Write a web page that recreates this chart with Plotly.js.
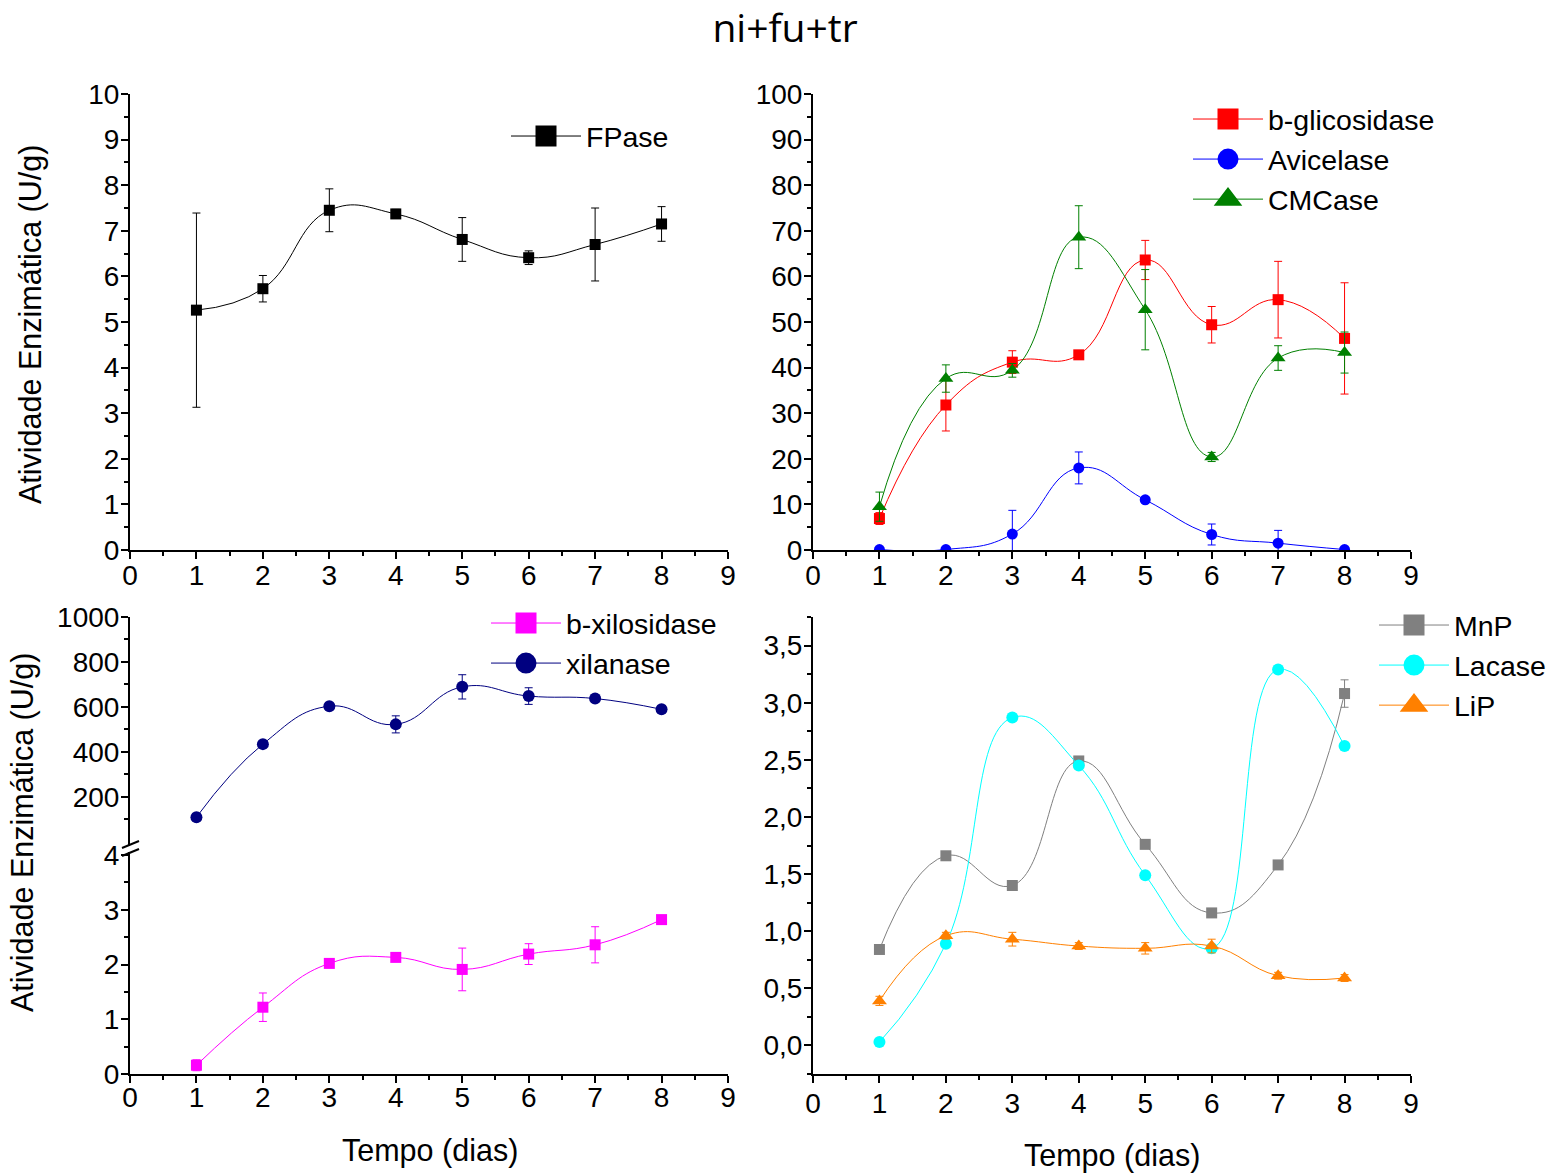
<!DOCTYPE html>
<html>
<head>
<meta charset="utf-8">
<script src="https://cdn.plot.ly/plotly-3.0.1.min.js"></script>
<style>html,body{margin:0;padding:0;background:#fff;}#chart{width:1562px;height:1173px;}</style>
</head>
<body>
<div id="chart"></div>
<script>
// ---- data ----
const days = [1, 2, 3, 4, 5, 6, 7, 8];

const fpase    = [5.26, 5.73, 7.45, 7.37, 6.81, 6.41, 6.70, 7.15];
const fpaseErr = [2.13, 0.29, 0.47, 0.10, 0.48, 0.15, 0.80, 0.38];

const bGlic    = [6.9, 31.8, 41.2, 42.8, 63.6, 49.4, 54.9, 46.4];
const bGlicErr = [1.3, 5.7, 2.5, 0.5, 4.3, 4.0, 8.4, 12.2];
const avic     = [0.1, 0.1, 3.5, 18.0, 11.0, 3.4, 1.5, 0.1];
const avicErr  = [0.3, 0.3, 5.2, 3.5, 0.6, 2.3, 2.8, 0.3];
const cmc      = [9.5, 37.6, 39.4, 68.6, 52.7, 20.4, 42.1, 43.3];
const cmcErr   = [3.2, 3.0, 1.5, 6.9, 8.8, 1.0, 2.7, 4.5];

const xilanase    = [109, 434, 603, 522, 689, 648, 637, 589];
const xilanaseErr = [10, 10, 10, 38, 54, 37, 10, 15];
const bXil        = [0.16, 1.22, 2.02, 2.13, 1.91, 2.19, 2.36, 2.82];
const bXilErr     = [0.10, 0.26, 0.05, 0.05, 0.39, 0.19, 0.33, 0.05];

const mnp       = [0.84, 1.66, 1.40, 2.49, 1.76, 1.16, 1.58, 3.08];
const mnpErr    = [0.02, 0.02, 0.03, 0.03, 0.02, 0.02, 0.02, 0.12];
const lacase    = [0.03, 0.89, 2.87, 2.45, 1.49, 0.85, 3.29, 2.62];
const lacaseErr = [0.01, 0.01, 0.01, 0.01, 0.01, 0.01, 0.01, 0.01];
const lip       = [0.39, 0.96, 0.93, 0.87, 0.85, 0.87, 0.61, 0.59];
const lipErr    = [0.04, 0.03, 0.06, 0.03, 0.05, 0.06, 0.03, 0.03];

const xTicks   = [0, 1, 2, 3, 4, 5, 6, 7, 8, 9];
const xilTicks = [200, 400, 600, 800, 1000];
const xilMinor = [100, 300, 500, 700, 900];
const ligTicks = [0, 0.5, 1, 1.5, 2, 2.5, 3, 3.5];

const title = 'ni+fu+tr';
const yTitle = 'Atividade Enzimática (U/g)';
const xTitle = 'Tempo (dias)';

// ---- layout helpers ----
const W = 1562, H = 1173;
const px = v => v / W;
const py = v => 1 - v / H;
const FONT = 'Liberation Sans, Arial, sans-serif';
const tickFont = {family: FONT, size: 28, color: '#000'};

function axisBase(extra) {
  return Object.assign({
    showline: true, linecolor: '#000', linewidth: 2,
    ticks: 'outside', ticklen: 7, tickwidth: 2, tickcolor: '#000',
    showgrid: false, zeroline: false, tickfont: tickFont,
    ticklabelstandoff: -4,
    fixedrange: true
  }, extra);
}
function xAxis(domain, anchor, standoff) {
  return axisBase({domain: domain, anchor: anchor, range: [0, 9],
    tickmode: 'array', tickvals: xTicks, ticklabelstandoff: standoff,
    minor: {dtick: 0.5, tick0: 0, ticks: 'outside', ticklen: 4, tickwidth: 2, tickcolor: '#000'}});
}

function series(x, y, err, name, color, symbol, size, xa, ya, legend) {
  return {
    x: x, y: y, name: name, type: 'scatter', mode: 'lines+markers',
    xaxis: xa, yaxis: ya, legend: legend, showlegend: false,
    line: {color: color, width: 1, shape: 'spline', smoothing: 1.3},
    marker: {color: color, symbol: symbol, size: size},
    error_y: {type: 'data', array: err, visible: true, color: color, thickness: 1, width: 4},
    cliponaxis: true
  };
}
function legendEntry(name, color, symbol, xa, ya, legend) {
  return {
    x: [null], y: [null], name: name, type: 'scatter', mode: 'lines+markers',
    xaxis: xa, yaxis: ya, legend: legend, showlegend: true,
    line: {color: color, width: 1},
    marker: {color: color, symbol: symbol, size: 16, line: {color: color, width: 5}},
    hoverinfo: 'skip'
  };
}

const traces = [
  series(days, fpase, fpaseErr, 'FPase', '#000000', 'square', 11, 'x', 'y', 'legend'),
  legendEntry('FPase', '#000000', 'square', 'x', 'y', 'legend'),

  series(days, bGlic, bGlicErr, 'b-glicosidase', '#FF0000', 'square', 11, 'x2', 'y2', 'legend2'),
  series(days, avic, avicErr, 'Avicelase', '#0000FF', 'circle', 11, 'x2', 'y2', 'legend2'),
  series(days, cmc, cmcErr, 'CMCase', '#008000', 'triangle-up', 13, 'x2', 'y2', 'legend2'),
  legendEntry('b-glicosidase', '#FF0000', 'square', 'x2', 'y2', 'legend2'),
  legendEntry('Avicelase', '#0000FF', 'circle', 'x2', 'y2', 'legend2'),
  legendEntry('CMCase', '#008000', 'triangle-up', 'x2', 'y2', 'legend2'),

  series(days, bXil, bXilErr, 'b-xilosidase', '#FF00FF', 'square', 11, 'x3', 'y4', 'legend3'),
  series(days, xilanase, xilanaseErr, 'xilanase', '#000080', 'circle', 12, 'x3', 'y3', 'legend3'),
  legendEntry('b-xilosidase', '#FF00FF', 'square', 'x3', 'y4', 'legend3'),
  legendEntry('xilanase', '#000080', 'circle', 'x3', 'y3', 'legend3'),

  series(days, mnp, mnpErr, 'MnP', '#808080', 'square', 11, 'x4', 'y5', 'legend4'),
  series(days, lacase, lacaseErr, 'Lacase', '#00FFFF', 'circle', 12, 'x4', 'y5', 'legend4'),
  series(days, lip, lipErr, 'LiP', '#FF8000', 'triangle-up', 13, 'x4', 'y5', 'legend4'),
  legendEntry('MnP', '#808080', 'square', 'x4', 'y5', 'legend4'),
  legendEntry('Lacase', '#00FFFF', 'circle', 'x4', 'y5', 'legend4'),
  legendEntry('LiP', '#FF8000', 'triangle-up', 'x4', 'y5', 'legend4')
];

function legendAt(xLeft, yTop) {
  return {x: px(xLeft), y: py(yTop), xanchor: 'left', yanchor: 'top',
    bgcolor: 'rgba(0,0,0,0)', borderwidth: 0, itemwidth: 70,
    font: {family: FONT, size: 28.5, color: '#000'}, tracegroupgap: 0};
}

const leftX = [px(130), px(728)];
const rightX = [px(813), px(1411)];
const titleFont = {family: FONT, size: 30.5, color: '#000'};

const layout = {
  width: W, height: H,
  margin: {l: 0, r: 0, t: 0, b: 0},
  paper_bgcolor: '#fff', plot_bgcolor: 'rgba(0,0,0,0)',
  separators: ',.',
  title: {text: title, x: px(785), xanchor: 'center', y: py(28), yanchor: 'middle',
    font: {family: 'Open Sans, Noto Sans, sans-serif', size: 39, color: '#000'}},
  xaxis: xAxis(leftX, 'y', -8),
  yaxis: axisBase({domain: [py(550), py(94)], anchor: 'x', range: [0, 10], dtick: 1, tick0: 0,
    minor: {dtick: 0.5, tick0: 0, ticks: 'outside', ticklen: 4, tickwidth: 2, tickcolor: '#000'}}),
  xaxis2: xAxis(rightX, 'y2', -8),
  yaxis2: axisBase({domain: [py(550), py(94)], anchor: 'x2', range: [0, 100], dtick: 10, tick0: 0,
    minor: {dtick: 5, tick0: 0, ticks: 'outside', ticklen: 4, tickwidth: 2, tickcolor: '#000'}}),
  xaxis3: xAxis(leftX, 'y4', -10),
  yaxis3: axisBase({domain: [py(846), py(617)], anchor: 'x3', range: [-19.5, 1000],
    tickmode: 'array', tickvals: xilTicks,
    minor: {tickmode: 'array', tickvals: xilMinor, ticks: 'outside', ticklen: 4, tickwidth: 2, tickcolor: '#000'}}),
  yaxis4: axisBase({domain: [py(1074), py(852)], anchor: 'x3', range: [0, 4.055], dtick: 1, tick0: 0,
    minor: {dtick: 0.5, tick0: 0, ticks: 'outside', ticklen: 4, tickwidth: 2, tickcolor: '#000'}}),
  xaxis4: xAxis(rightX, 'y5', -4),
  yaxis5: axisBase({domain: [py(1074), py(617)], anchor: 'x4', range: [-0.25, 3.75],
    tickmode: 'array', tickvals: ligTicks, tickformat: '.1f',
    minor: {dtick: 0.25, tick0: 0, ticks: 'outside', ticklen: 4, tickwidth: 2, tickcolor: '#000'}}),
  legend: legendAt(506, 111),
  legend2: legendAt(1188, 94),
  legend3: legendAt(486, 598),
  legend4: legendAt(1374, 600),
  annotations: [
    {text: yTitle, xref: 'paper', yref: 'paper', x: px(30), y: py(325), textangle: -90,
      showarrow: false, xanchor: 'center', yanchor: 'middle', font: titleFont},
    {text: yTitle, xref: 'paper', yref: 'paper', x: px(22), y: py(833), textangle: -90,
      showarrow: false, xanchor: 'center', yanchor: 'middle', font: titleFont},
    {text: xTitle, xref: 'paper', yref: 'paper', x: px(430), y: py(1150),
      showarrow: false, xanchor: 'center', yanchor: 'middle', font: titleFont},
    {text: xTitle, xref: 'paper', yref: 'paper', x: px(1112), y: py(1155),
      showarrow: false, xanchor: 'center', yanchor: 'middle', font: titleFont}
  ],
  shapes: [
    // axis-break marks on the bottom-left y axis
    {type: 'line', xref: 'paper', yref: 'paper', x0: px(122), y0: py(848), x1: px(139), y1: py(841),
      line: {color: '#000', width: 2}},
    {type: 'line', xref: 'paper', yref: 'paper', x0: px(122), y0: py(856), x1: px(139), y1: py(849),
      line: {color: '#000', width: 2}}
  ]
};

Plotly.newPlot('chart', traces, layout, {displayModeBar: false, staticPlot: true});
</script>
</body>
</html>
